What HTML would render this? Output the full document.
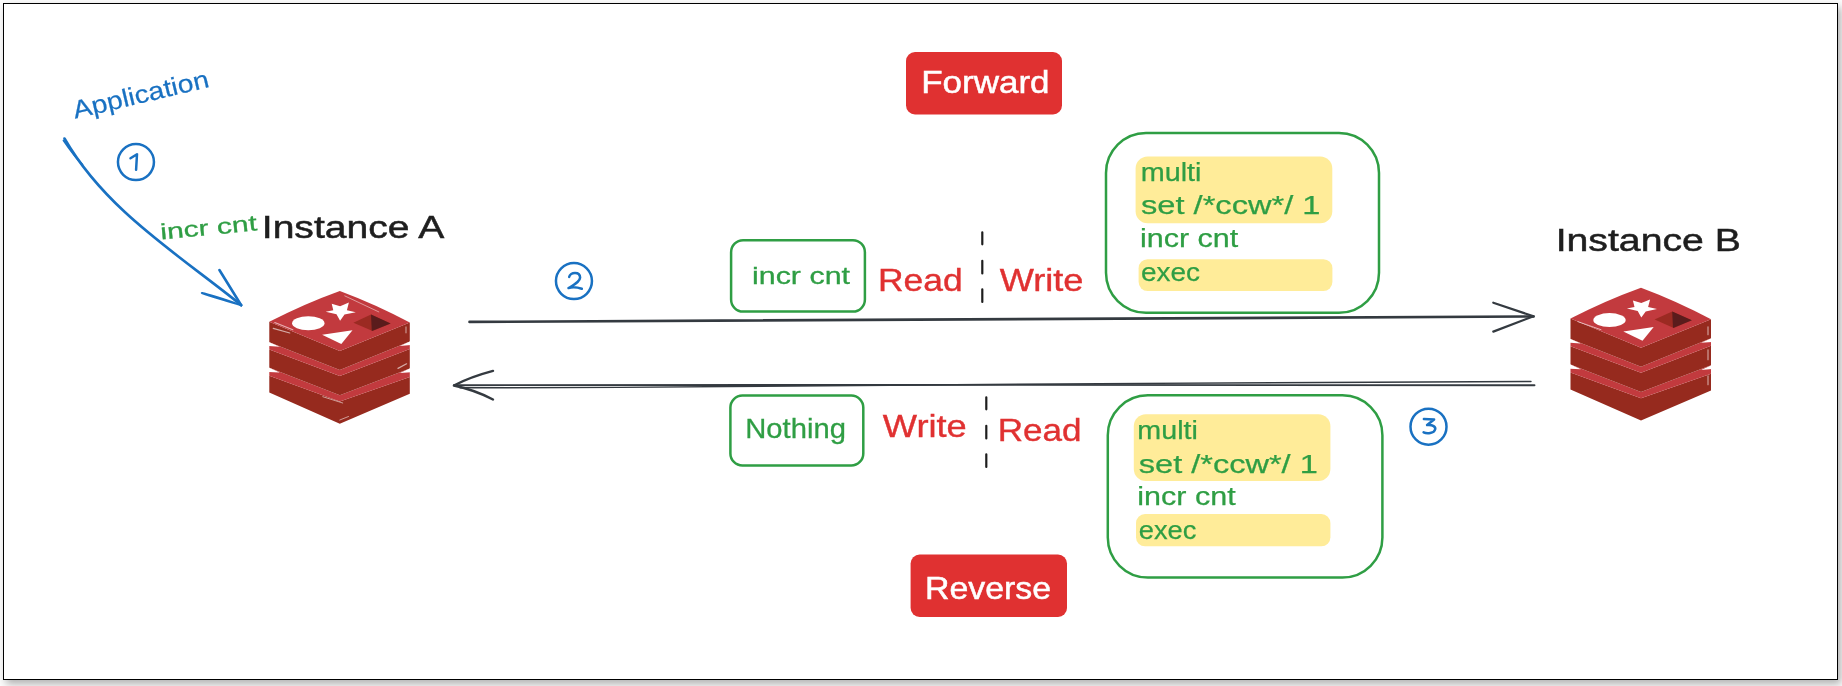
<!DOCTYPE html>
<html><head><meta charset="utf-8">
<style>
html,body{margin:0;padding:0;background:#fcfcfc;width:1842px;height:686px;overflow:hidden;position:relative}
#frame{position:absolute;left:3px;top:3px;width:1835px;height:677px;box-sizing:border-box;border:1px solid #000;background:#fff;box-shadow:3px 4px 8px rgba(0,0,0,0.3)}
svg{display:block;position:absolute;left:0;top:0;will-change:transform}
text{font-family:"Liberation Sans",sans-serif}
</style></head>
<body>
<div id="frame"></div>
<svg width="1842" height="686" viewBox="0 0 1842 686">
<defs>
<g id="logo">
  <path d="M-70.5,84.8 L0,110.6 L70,86 L70,102.8 L0,132.9 L-70.5,101.7 Z" fill="#962a1e"/>
  <path d="M-70.5,76.9 L0,104.3 L70,77.5 L70,86 L0,110.6 L-70.5,84.8 Z" fill="#c23a3e"/>
  <path d="M-70.5,58.5 L0,85 L70,58 L70,77.5 L0,104.3 L-70.5,76.9 Z" fill="#962a1e"/>
  <path d="M-70.5,51.3 L0,79 L70,50.5 L70,58 L0,85 L-70.5,58.5 Z" fill="#c23a3e"/>
  <path d="M-70.5,30.9 L0,60 L70,31.6 L70,50.5 L0,79 L-70.5,51.3 Z" fill="#962a1e"/>
  <path d="M0,0 Q-36.3,13.07 -70.5,30.9 L0,60 L70,31.6 Q36.07,13.43 0,0 Z" fill="#c23a3e"/>
  <path d="M-71,51 L-60,55.8 L-71,55 Z M71,50.2 L60,55 L71,54.2 Z M-71,76.6 L-60,81.6 L-71,81 Z M71,77.2 L60,82.2 L71,81.4 Z" fill="#fff"/>
  <ellipse cx="-31.5" cy="32.4" rx="16.2" ry="7" fill="#fff"/>
  <path d="M-8.1,12.9 L0.3,15.3 L9.1,11.7 L7.1,19.3 L16,21.3 L4.7,23.7 L0.3,29.8 L-3.3,23.3 L-14.1,20.9 L-6.5,19.3 Z" fill="#fff"/>
  <path d="M-17.7,43.8 L12.7,39.4 L1.5,53 Z" fill="#fff"/>
  <path d="M13.6,31.8 L31.2,23.7 L50.8,32.6 L32.8,40.2 Z" fill="#9b2a22"/>
  <path d="M31.2,23.7 L50.8,32.6 L32,40.2 Z" fill="#5a1c1c"/>
</g>
<g id="hlA" stroke="#fff" stroke-linecap="round" fill="none" opacity="0.6">
    <path d="M5,5 L39,21" stroke-width="0.8"/>
    <path d="M-65,31.6 L-47,38.8 M-66.6,37.5 L-50,42.1" stroke-width="1.1"/>
    <path d="M66.2,36 L66.2,42" stroke-width="1"/>
    <path d="M58.2,77.5 L66.8,72.9" stroke-width="1.2"/>
    <path d="M0,129.1 L8.7,125.6 M-17,105.8 L2.9,112.1" stroke-width="0.9"/>
</g>
<g id="hlB" stroke="#fff" stroke-linecap="round" fill="none" opacity="0.6">
    <path d="M-63,34 L-40,42" stroke-width="1"/>
    <path d="M67,39 L67,47 M67,62 L67,72 M67,88 L67,97" stroke-width="1.1"/>
</g>
</g>
</defs>
<!-- Application arrow & circles -->
<g fill="none" stroke="#1971c2" stroke-linecap="round" stroke-linejoin="round">
  <path d="M64.5,138.5 C105.8,210.4 178.3,254.3 241.1,305" stroke-width="2.6"/>
  <path d="M63.5,140.5 C70,150 76,158 82.4,164.7" stroke-width="1.8"/>
  <path d="M241.2,305.3 L219.4,270" stroke-width="2.6"/>
  <path d="M241.2,305.3 C225,300 212,297 201.9,293 C212,295 226,300 241.2,305.3" stroke-width="2.2"/>
  <g stroke-width="2.5">
  <circle cx="135.95" cy="162.1" r="18"/>
  <circle cx="573.95" cy="281.1" r="18"/>
  <circle cx="1428.5" cy="426.65" r="18"/>
  <path d="M130.5,158.3 L137,154.2 L136.1,169.8"/>
  <path d="M569.2,276.9 C570,272 580,271 580.1,277.6 C580,282 572,286 568.5,288.1 C573,286.5 578,287.5 581.8,288.8"/>
  <path d="M1423.9,419.1 L1434.1,419.5 L1427.1,425.1 C1433,424.5 1436,427 1435.1,429.5 C1434,433.5 1427,434 1423.6,432.4"/>
  </g>
</g>

<use href="#logo" x="339.8" y="290.9"/>
<use href="#logo" x="1641" y="287.7"/>
<use href="#hlA" x="339.8" y="290.9"/>
<use href="#hlB" x="1641" y="287.7"/>

<!-- arrows -->
<g fill="none" stroke="#343a40" stroke-linecap="round" stroke-linejoin="round">
  <path d="M469.5,321.9 L1533.6,316.5" stroke-width="2.6"/>
  <path d="M1533.6,316.3 L1493.3,302.7 M1533.6,316.3 L1493.3,331.6" stroke-width="2.2"/>
  <path d="M1534.5,385.3 L1000,384.9 L453.9,385.2" stroke-width="1.9"/>
  <path d="M1531,381.5 L1100,383.6 L620,387.4 L460,387.8" stroke-width="1.4"/>
  <path d="M453.9,385.5 Q470,377 493,370.9 M453.9,385.5 Q475,390 493,399.5" stroke-width="2.4"/>
</g>
<g stroke="#1e1e1e" stroke-width="2.2" stroke-linecap="round">
  <path d="M982.3,232.3 V244.3 M982.3,260.8 V273.5 M982.3,289.3 V302"/>
  <path d="M986.3,397.3 V409.3 M986.3,425.8 V438.5 M986.3,454.3 V467"/>
</g>

<!-- buttons -->
<rect x="906" y="52" width="156" height="62.5" rx="9" fill="#e03131"/>
<rect x="910.6" y="554.6" width="156.4" height="62.4" rx="9" fill="#e03131"/>

<!-- boxes -->
<g fill="none" stroke="#2f9e44" stroke-width="2.5">
  <rect x="731.1" y="240.2" width="133.8" height="71.4" rx="12"/>
  <rect x="730.4" y="395.6" width="132.9" height="69.9" rx="12"/>
  <rect x="1106" y="132.9" width="273" height="179.9" rx="40"/>
  <rect x="1107.8" y="395.3" width="274.6" height="182.2" rx="40"/>
</g>

<!-- code highlights -->
<g fill="#ffec99">
  <rect x="1135.6" y="156.4" width="196.7" height="66.8" rx="12"/>
  <rect x="1138.6" y="259.2" width="193.8" height="31.9" rx="9"/>
  <rect x="1133.8" y="414.3" width="196.6" height="66.7" rx="12"/>
  <rect x="1136" y="514" width="194.4" height="32.3" rx="9"/>
</g>

<text transform="translate(75,118.8) rotate(-13.3)" font-size="25" fill="#1971c2" stroke="#1971c2" stroke-width="0.2" textLength="139" lengthAdjust="spacingAndGlyphs">Application</text>
<text transform="translate(161,239.6) rotate(-5.5)" font-size="22" fill="#2f9e44" stroke="#2f9e44" stroke-width="0.3" textLength="97" lengthAdjust="spacingAndGlyphs">incr cnt</text>
<text x="261.8" y="238" font-size="31" fill="#1e1e1e" stroke="#1e1e1e" stroke-width="0.5" textLength="182.4" lengthAdjust="spacingAndGlyphs">Instance A</text>
<text x="1555.7" y="250.7" font-size="31" fill="#1e1e1e" stroke="#1e1e1e" stroke-width="0.5" textLength="185.2" lengthAdjust="spacingAndGlyphs">Instance B</text>
<text x="921.2" y="93.4" font-size="32" fill="#fff" stroke="#fff" stroke-width="0.5" textLength="128.4" lengthAdjust="spacingAndGlyphs">Forward</text>
<text x="925.0" y="599" font-size="32" fill="#fff" stroke="#fff" stroke-width="0.5" textLength="126.0" lengthAdjust="spacingAndGlyphs">Reverse</text>
<text x="752.0" y="283.5" font-size="24" fill="#2f9e44" stroke="#2f9e44" stroke-width="0.3" textLength="98.0" lengthAdjust="spacingAndGlyphs">incr cnt</text>
<text x="745.3" y="438.4" font-size="28" fill="#2f9e44" stroke="#2f9e44" stroke-width="0.3" textLength="100.6" lengthAdjust="spacingAndGlyphs">Nothing</text>
<text x="878.0" y="291.2" font-size="32" fill="#e03131" stroke="#e03131" stroke-width="0.4" textLength="84.6" lengthAdjust="spacingAndGlyphs">Read</text>
<text x="999.7" y="290.5" font-size="32" fill="#e03131" stroke="#e03131" stroke-width="0.4" textLength="83.8" lengthAdjust="spacingAndGlyphs">Write</text>
<text x="882.8" y="436.5" font-size="32" fill="#e03131" stroke="#e03131" stroke-width="0.4" textLength="84.0" lengthAdjust="spacingAndGlyphs">Write</text>
<text x="997.7" y="440.6" font-size="32" fill="#e03131" stroke="#e03131" stroke-width="0.4" textLength="83.8" lengthAdjust="spacingAndGlyphs">Read</text>
<text x="1140.7" y="180.9" font-size="26" fill="#2f9e44" stroke="#2f9e44" stroke-width="0.25" textLength="60.8" lengthAdjust="spacingAndGlyphs">multi</text>
<text x="1141.0" y="214.1" font-size="26" fill="#2f9e44" stroke="#2f9e44" stroke-width="0.25" textLength="179.5" lengthAdjust="spacingAndGlyphs">set /*ccw*/ 1</text>
<text x="1139.9" y="247.2" font-size="26" fill="#2f9e44" stroke="#2f9e44" stroke-width="0.25" textLength="98.4" lengthAdjust="spacingAndGlyphs">incr cnt</text>
<text x="1141.0" y="281.4" font-size="26" fill="#2f9e44" stroke="#2f9e44" stroke-width="0.25" textLength="59.0" lengthAdjust="spacingAndGlyphs">exec</text>
<text x="1137.3" y="438.6" font-size="26" fill="#2f9e44" stroke="#2f9e44" stroke-width="0.25" textLength="60.6" lengthAdjust="spacingAndGlyphs">multi</text>
<text x="1138.8" y="473.3" font-size="26" fill="#2f9e44" stroke="#2f9e44" stroke-width="0.25" textLength="179.0" lengthAdjust="spacingAndGlyphs">set /*ccw*/ 1</text>
<text x="1137.3" y="504.9" font-size="26" fill="#2f9e44" stroke="#2f9e44" stroke-width="0.25" textLength="98.4" lengthAdjust="spacingAndGlyphs">incr cnt</text>
<text x="1138.8" y="538.6" font-size="26" fill="#2f9e44" stroke="#2f9e44" stroke-width="0.25" textLength="57.6" lengthAdjust="spacingAndGlyphs">exec</text>
</svg>
</body></html>
